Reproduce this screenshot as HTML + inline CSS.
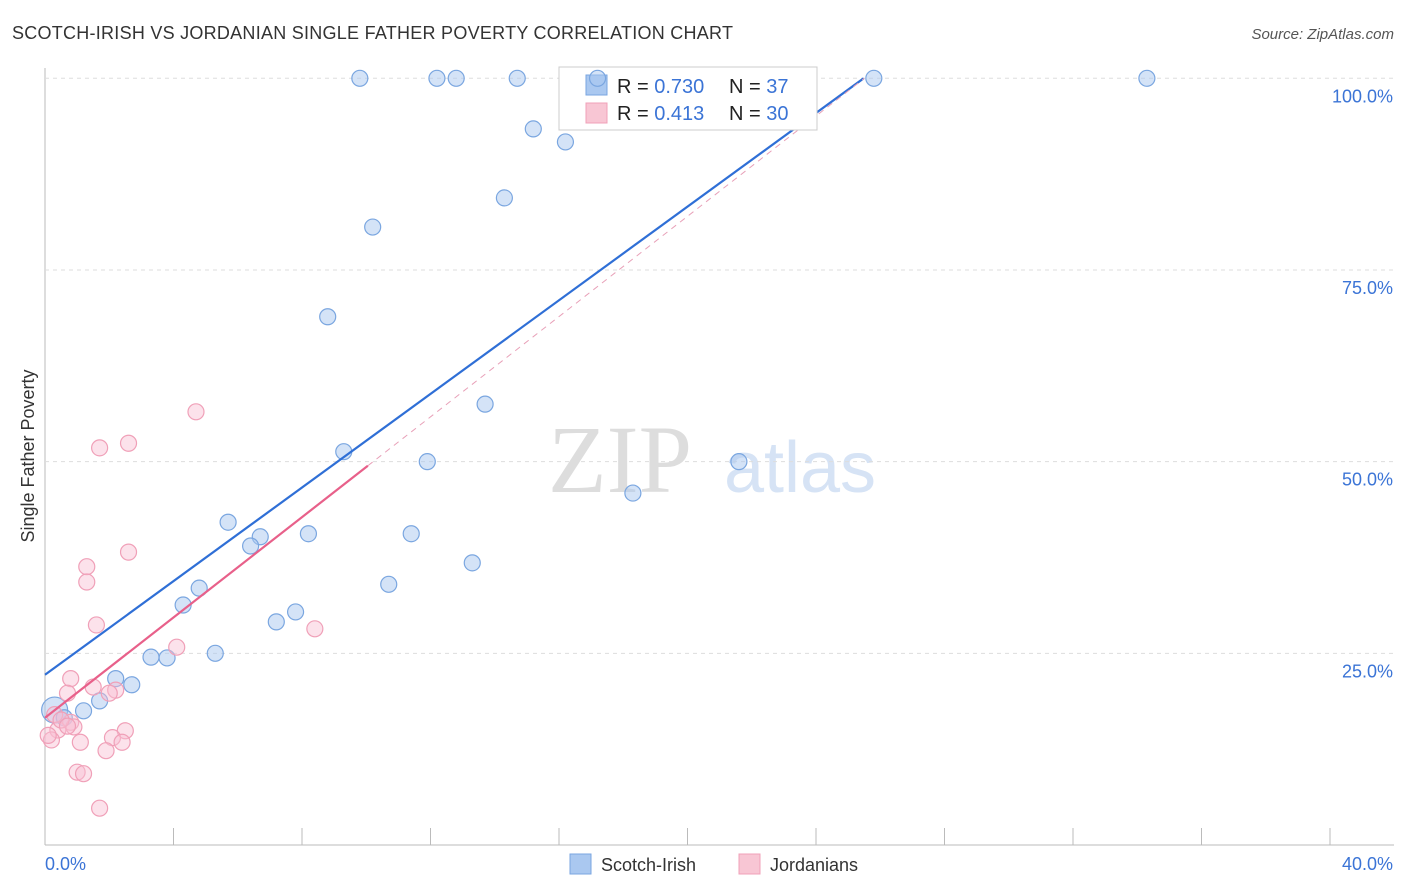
<!DOCTYPE html>
<html><head><meta charset="utf-8"><style>
body{margin:0;background:#fff;font-family:"Liberation Sans",sans-serif}
svg{display:block}
</style></head><body>
<svg id="c" width="1406" height="892" xmlns="http://www.w3.org/2000/svg">
<text x="12" y="39" font-size="18" fill="#333" textLength="721">SCOTCH-IRISH VS JORDANIAN SINGLE FATHER POVERTY CORRELATION CHART</text>
<text x="1394" y="39" font-size="15" fill="#555" font-style="italic" text-anchor="end">Source: ZipAtlas.com</text>
<text x="34" y="456" font-size="18" fill="#333" text-anchor="middle" transform="rotate(-90 34 456)">Single Father Poverty</text>
<text x="620" y="492" font-size="96" fill="#ddd" font-family="Liberation Serif,serif" text-anchor="middle">ZIP</text>
<text x="800" y="492" font-size="72" fill="#d6e3f5" text-anchor="middle">atlas</text>
<g id="grid"></g><g id="marks"></g>
<g>
<rect x="559" y="67" width="258" height="63" fill="#fff" stroke="#ccc"/>
<rect x="586" y="75" width="21" height="20" fill="#aac8f0" stroke="#7aa6e0"/>
<rect x="586" y="103" width="21" height="20" fill="#f8c6d4" stroke="#f0a0b8"/>
<text x="617" y="93" font-size="20" fill="#222">R = <tspan fill="#3b74d6">0.730</tspan></text>
<text x="729" y="93" font-size="20" fill="#222">N = <tspan fill="#3b74d6"> 37</tspan></text>
<text x="617" y="120" font-size="20" fill="#222">R = <tspan fill="#3b74d6"> 0.413</tspan></text>
<text x="729" y="120" font-size="20" fill="#222">N = <tspan fill="#3b74d6">30</tspan></text>
</g>
<g id="over"></g>
<g>
<rect x="570" y="854" width="21" height="20" fill="#aac8f0" stroke="#7aa6e0"/>
<text x="601" y="871" font-size="18" fill="#333">Scotch-Irish</text>
<rect x="739" y="854" width="21" height="20" fill="#f8c6d4" stroke="#f0a0b8"/>
<text x="770" y="871" font-size="18" fill="#333">Jordanians</text>
</g>
</svg>
<script>
const yTicks=[25,50,75,100];
const yTickLabels=["25.0%","50.0%","75.0%","100.0%"];
const blueX=[9.8,12.2,12.8,14.7,17.2,25.8,34.3,15.2,16.2,14.3,10.2,8.8,13.7,9.3,11.9,21.6,18.3,5.7,6.7,6.4,8.2,11.4,13.3,10.7,4.8,4.3,7.8,7.2,5.3,3.3,3.8,2.2,2.7,1.7,1.2,0.3,0.6];
const blueY=[100,100,100,100,100,100,100,93.4,91.7,84.4,80.6,68.9,57.5,51.3,50.0,50.0,45.9,42.1,40.2,39.0,40.6,40.6,36.8,34.0,33.5,31.3,30.4,29.1,25.0,24.5,24.4,21.7,20.9,18.8,17.5,17.6,16.6];
const pinkX=[4.7,2.6,1.7,2.6,1.3,1.3,1.6,8.4,4.1,0.8,1.5,0.7,2.2,2.0,0.3,0.8,0.9,0.4,0.2,2.5,2.1,2.4,1.1,1.9,1.0,1.2,1.7,0.5,0.1,0.7];
const pinkY=[56.5,52.4,51.8,38.2,36.3,34.3,28.7,28.2,25.8,21.7,20.6,19.8,20.2,19.8,17.0,16.0,15.4,15.0,13.7,14.9,14.0,13.4,13.4,12.3,9.5,9.3,4.8,16.3,14.3,15.5];
const blueFit=[22.2,0.03053];
const pinkFit=[16.6,3.27];
const X=v=>45+v/40*1285, Y=v=>845-v/100*766.7;
const NS="http://www.w3.org/2000/svg";
const g=document.getElementById('grid'), m=document.getElementById('marks'), ov=document.getElementById('over');
function el(t,a,p){const e=document.createElementNS(NS,t);for(const k in a)e.setAttribute(k,a[k]);p.appendChild(e);return e;}
let ax=el('line',{x1:45,y1:845,x2:1394,y2:845,stroke:'#bbb'},g);


let ay=el('line',{x1:45,y1:68,x2:45,y2:845,stroke:'#bbb'},g);


for(let i=0;i<=10;i++){let t=el('line',{x1:X(i*4),y1:828,x2:X(i*4),y2:845,stroke:'#bbb'},g);

}
yTicks.forEach((v,i)=>{let l=el('line',{x1:45,y1:Y(v),x2:1394,y2:Y(v),stroke:'#ddd','stroke-dasharray':'4,4'},g);


let t=el('text',{x:1393,y:Y(v)+24,'font-size':18,fill:'#3b74d6','text-anchor':'end'},g);t.textContent=yTickLabels[i];

});
let t0=el('text',{x:45,y:870,'font-size':18,fill:'#3b74d6'},g);t0.textContent='0.0%';


let t1=el('text',{x:1393,y:870,'font-size':18,fill:'#3b74d6','text-anchor':'end'},g);t1.textContent='40.0%';


blueX.forEach((x,i)=>{let c=el('circle',{cx:X(x),cy:Y(blueY[i]),r:(i==35?13:8),fill:'rgba(170,200,240,0.5)',stroke:'#7aa6e0','stroke-width':1.2},(X(x)>559&&X(x)<817&&Y(blueY[i])<130)?ov:m);

});
pinkX.forEach((x,i)=>{let c=el('circle',{cx:X(x),cy:Y(pinkY[i]),r:8,fill:'rgba(248,190,210,0.45)',stroke:'#f0a0b8','stroke-width':1.2},m);

});
const bx2=(100-blueFit[0])/(blueFit[1]*100);
let bl=el('line',{x1:X(0),y1:Y(blueFit[0]),x2:X(bx2),y2:Y(100),stroke:'#2f6fd6','stroke-width':2.2},m);


const px2=(100-pinkFit[0])/pinkFit[1];
let pd=el('line',{x1:X(10.05),y1:Y(pinkFit[0]+pinkFit[1]*10.05),x2:X(px2),y2:Y(100),stroke:'#e8a0b8','stroke-width':1,'stroke-dasharray':'6,5'},m);


let pl=el('line',{x1:X(0),y1:Y(pinkFit[0]),x2:X(10.05),y2:Y(pinkFit[0]+pinkFit[1]*10.05),stroke:'#e8608a','stroke-width':2.2},m);


</script>
</body></html>
